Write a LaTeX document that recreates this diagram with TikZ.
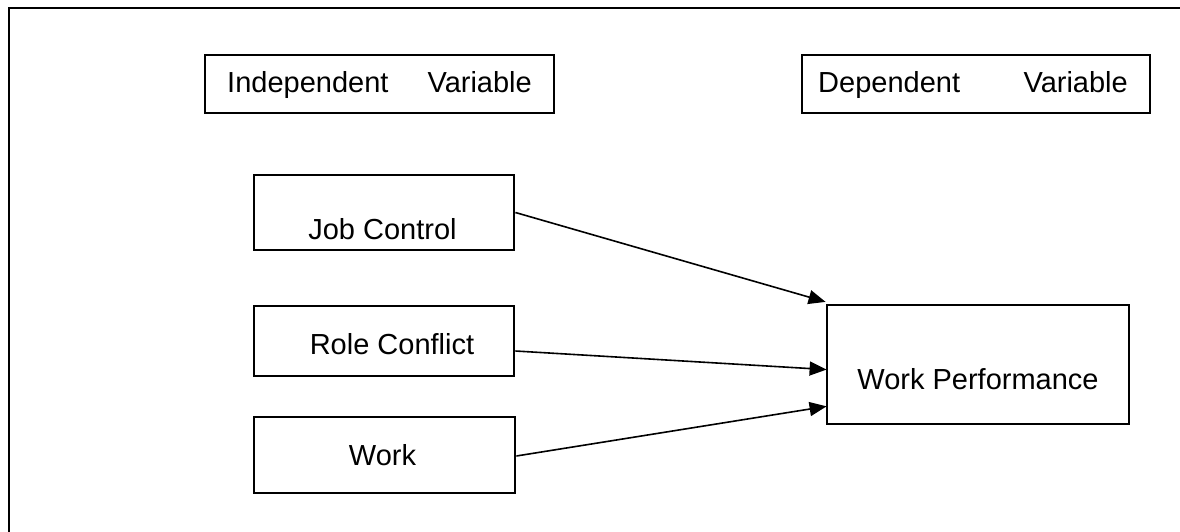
\documentclass[tikz,border=0pt]{standalone}
\usepackage{fontspec}
\setmainfont{Liberation Sans}
\usetikzlibrary{arrows.meta}
\begin{document}
\begin{tikzpicture}[x=1pt,y=-1pt,
  box/.style={draw, line width=2.8pt, inner sep=0pt, rectangle},
  lbl/.style={inner sep=0pt, font=\fontsize{29}{34}\selectfont},
  conn/.style={line width=1.6pt, -{Triangle[length=17pt,width=14pt]}, shorten >=-1pt},
  frame/.style={line width=2pt}]
\useasboundingbox (0,0) rectangle (1180,532);
\coordinate (ftl) at (9,8);
\coordinate (fbl) at (9,532);
\coordinate (ftr) at (1180,8);
\draw[frame] (fbl) -- (ftl) -- (ftr);
% header boxes
\node[box, minimum width=349pt, minimum height=58pt] (ind) at (379.5,84) {};
\node[box, minimum width=348pt, minimum height=58pt] (dep) at (976,84) {};
\node[lbl, anchor=base west] (indA) at (227,93) {Independent};
\node[lbl, anchor=base east] (indB) at (532,93) {Variable};
\node[lbl, anchor=base west] (depA) at (818,93) {Dependent};
\node[lbl, anchor=base east] (depB) at (1128,93) {Variable};
% variable boxes
\node[box, minimum width=260pt, minimum height=75pt] (jc) at (384,212.5) {};
\node[box, minimum width=260pt, minimum height=70pt] (rc) at (384,341) {};
\node[box, minimum width=261pt, minimum height=76pt] (wk) at (384.5,455) {};
\node[box, minimum width=302pt, minimum height=119pt] (wp) at (978,364.5) {};
\node[lbl, anchor=base] (jct) at (382.5,239) {Job Control};
\node[lbl, anchor=base] (rct) at (392,354) {Role Conflict};
\node[lbl, anchor=base] (wkt) at (382.5,465) {Work};
\node[lbl, anchor=base] (wpt) at (978,389) {Work Performance};
% connectors
\draw[conn] (jc.east) -- ([xshift=-1pt,yshift=2pt]wp.north west);
\draw[conn] ([yshift=-10pt]rc.east) -- ([yshift=-5pt]wp.west);
\draw[conn] ([yshift=-1pt]wk.east) -- ([yshift=-42pt]wp.west);
\end{tikzpicture}
\end{document}
